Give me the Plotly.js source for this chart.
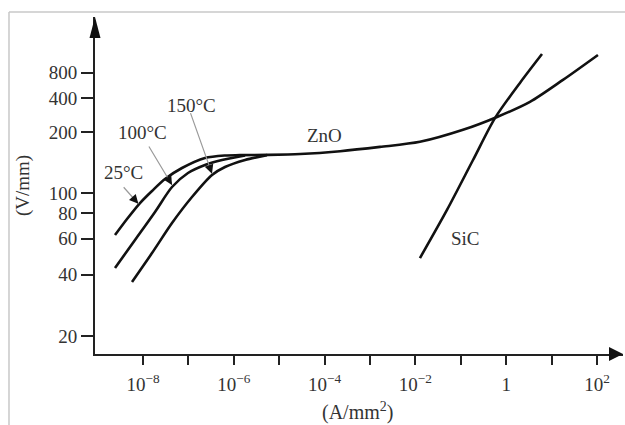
<!DOCTYPE html>
<html>
<head>
<meta charset="utf-8">
<script src="https://cdn.plot.ly/plotly-3.0.1.min.js"></script>
<style>html,body{margin:0;padding:0;background:#fff;}#chart{width:625px;height:425px;}</style>
</head>
<body>
<div id="chart"></div>
<script>
// Current density (A/mm^2) and field (V/mm)
var zno25X = [2.42e-9, 4.45e-9, 8.59e-9, 1.58e-8, 3.05e-8, 7.23e-8, 2.32e-7, 6.4e-7, 1.37e-6, 5.4e-6, 2.9e-5, 2.2e-4, 1.66e-3, 1.26e-2, 0.112, 0.63, 3.34, 17.8, 105];
var zno25Y = [62.5, 74.9, 89.7, 102.8, 117.7, 133.2, 149.2, 153.5, 154, 154.5, 156, 161, 169, 179, 205, 237, 281, 360, 477];

var zno100X = [2.42e-9, 6.67e-9, 1.84e-8, 4.36e-8, 9.8e-8, 2.32e-7, 5.5e-7, 1.77e-6];
var zno100Y = [43.1, 59.1, 81.1, 107.5, 125.9, 137.8, 145.9, 153.5];

var zno150X = [5.73e-9, 1.58e-8, 4.36e-8, 1.2e-7, 3.31e-7, 6.4e-7, 1.77e-6, 5.38e-6];
var zno150Y = [36.8, 51.0, 71.6, 96.0, 123.1, 134.7, 145.9, 154];

var sicX = [1.26e-2, 4.97e-2, 0.186, 0.566, 2.01, 6.15];
var sicY = [48.2, 83, 145.8, 234, 348, 482];

var xTickVals = [1e-8, 1e-7, 1e-6, 1e-5, 1e-4, 1e-3, 1e-2, 1e-1, 1, 10, 100];
var xTickText = ['10<sup>−8</sup>', '', '10<sup>−6</sup>', '', '10<sup>−4</sup>', '', '10<sup>−2</sup>', '', '1', '', '10<sup>2</sup>'];
var yTickVals = [20, 40, 60, 80, 100, 200, 294, 390];
var yTickText = ['20', '40', '60', '80', '100', '200', '400', '800'];
var xTitle = '(A/mm<sup>2</sup>)';
var yTitle = '(V/mm)';

var labels = [
  {text: 'ZnO', x: 1.02e-4, y: 193},
  {text: 'SiC', x: 0.124, y: 60.4},
  {text: '25°C', x: 3.63e-9, y: 127},
  {text: '100°C', x: 1e-8, y: 198},
  {text: '150°C', x: 1.2e-7, y: 271}
];
var pointers = [
  {x: 7.9e-9, y: 89, ax: -16, ay: -18},
  {x: 4.36e-8, y: 110, ax: -24, ay: -40},
  {x: 3.31e-7, y: 125, ax: -22, ay: -62}
];

var F = 'Liberation Serif, Times New Roman, serif';
var line = {color: '#111', width: 2.6, shape: 'spline', smoothing: 0.8};
function tr(x, y) { return {x: x, y: y, type: 'scatter', mode: 'lines', line: line, hoverinfo: 'skip'}; }
var data = [tr(zno25X, zno25Y), tr(zno100X, zno100Y), tr(zno150X, zno150Y), tr(sicX, sicY)];

var annotations = [];
labels.forEach(function (l) {
  annotations.push({x: Math.log10(l.x), y: Math.log10(l.y), xref: 'x', yref: 'y', text: l.text,
    showarrow: false, font: {family: F, size: 19, color: '#333'}});
});
pointers.forEach(function (p) {
  annotations.push({x: Math.log10(p.x), y: Math.log10(p.y), xref: 'x', yref: 'y', text: '',
    showarrow: true, ax: p.ax, ay: p.ay, arrowhead: 0, arrowwidth: 1.2, arrowcolor: '#9a9a9a'});
  var len = Math.sqrt(p.ax * p.ax + p.ay * p.ay);
  annotations.push({x: Math.log10(p.x), y: Math.log10(p.y), xref: 'x', yref: 'y', text: '',
    showarrow: true, ax: p.ax / len * 9, ay: p.ay / len * 9, arrowhead: 2, arrowsize: 1.2, arrowwidth: 1.5, arrowcolor: '#111'});
});
annotations.push({xref: 'paper', yref: 'paper', x: 0.498, y: -0.172, xanchor: 'center', yanchor: 'middle',
  text: xTitle, showarrow: false, font: {family: F, size: 20, color: '#333'}});

var layout = {
  width: 625, height: 425,
  margin: {l: 95, r: 2, t: 17, b: 71},
  paper_bgcolor: '#fff', plot_bgcolor: '#fff',
  showlegend: false,
  xaxis: {
    type: 'log', range: [-9.057, 2.573],
    tickvals: xTickVals, ticktext: xTickText,
    ticks: 'outside', ticklen: 9, tickwidth: 2, tickcolor: '#222',
    ticklabelstandoff: 3,
    showline: true, linecolor: '#222', linewidth: 2,
    showgrid: false, zeroline: false,
    tickfont: {family: F, size: 19, color: '#333'}
  },
  yaxis: {
    type: 'log', range: [1.2128, 2.8647],
    tickvals: yTickVals, ticktext: yTickText,
    ticks: 'outside', ticklen: 12, tickwidth: 2, tickcolor: '#222',
    showline: true, linecolor: '#222', linewidth: 2,
    showgrid: false, zeroline: false,
    tickfont: {family: F, size: 19, color: '#333'},
    title: {text: yTitle, font: {family: F, size: 19, color: '#333'}, standoff: 14}
  },
  annotations: annotations,
  shapes: [
    {type: 'path', xref: 'paper', yref: 'paper', path: 'M 1 0 L 0.9735 0.0208 L 0.9735 -0.0208 Z', fillcolor: '#111', line: {width: 0}},
    {type: 'path', xref: 'paper', yref: 'paper', path: 'M 0 1 L -0.0104 0.9377 L 0.0104 0.9377 Z', fillcolor: '#111', line: {width: 0}},
    {type: 'line', xref: 'paper', yref: 'paper', x0: -0.1629, x1: 1.004, y0: 1.0148, y1: 1.0148, line: {color: '#c8c8c8', width: 1.5}},
    {type: 'line', xref: 'paper', yref: 'paper', x0: -0.1629, x1: -0.1629, y0: 1.0148, y1: -0.22, line: {color: '#c8c8c8', width: 1.5}}
  ]
};

Plotly.newPlot('chart', data, layout, {displayModeBar: false, staticPlot: true});
</script>
</body>
</html>
